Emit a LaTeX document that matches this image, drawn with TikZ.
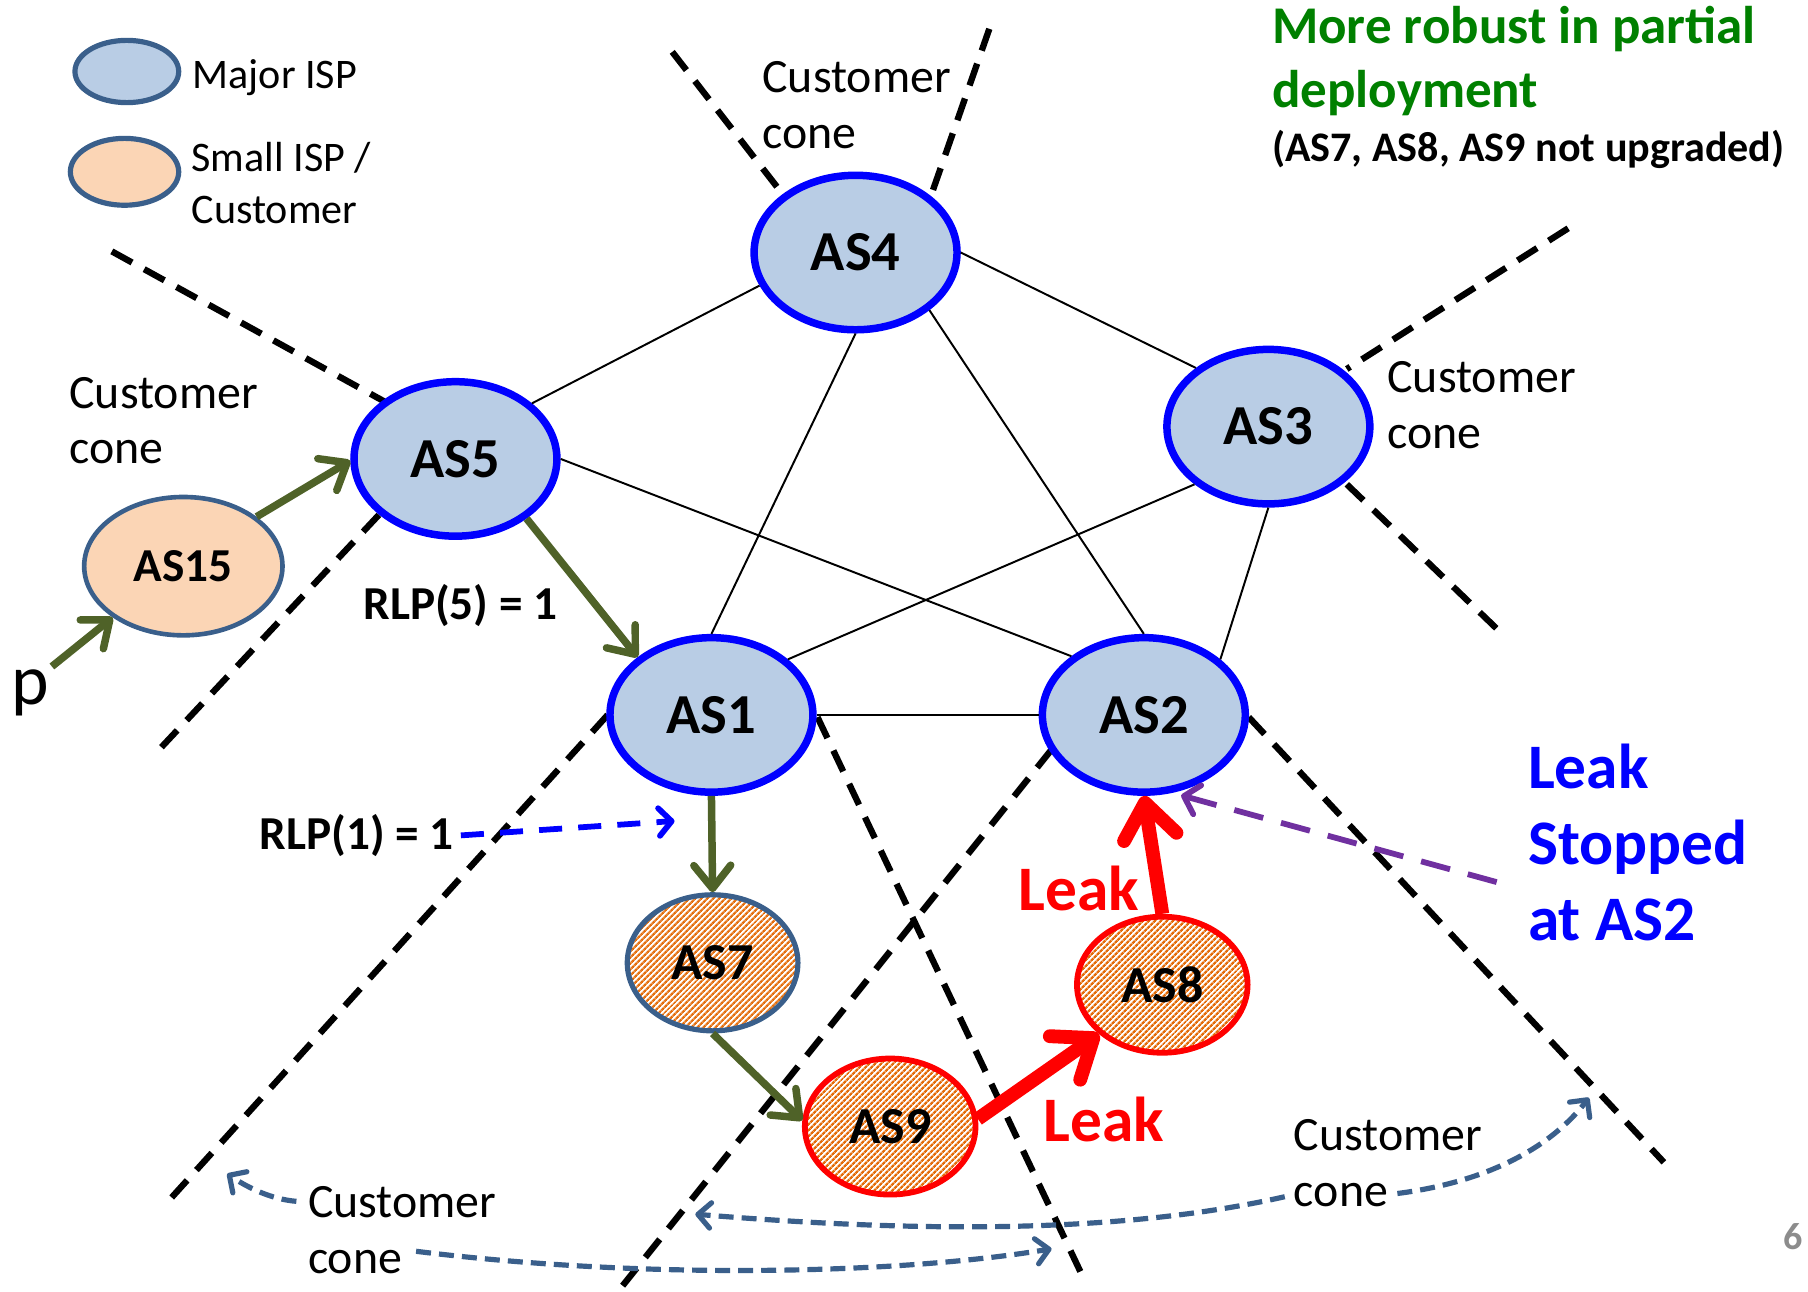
\documentclass[tikz,border=0pt]{standalone}
\usepackage{fontspec}
\setmainfont{Carlito}
\usetikzlibrary{arrows.meta,shapes.geometric,patterns.meta}
\definecolor{majorfill}{HTML}{B9CDE5}
\definecolor{smallfill}{HTML}{FBD5B5}
\definecolor{legblue}{HTML}{3A5F8B}
\definecolor{majblue}{HTML}{0000FF}
\definecolor{arrgreen}{HTML}{4F6228}
\definecolor{titlegreen}{HTML}{008000}
\definecolor{purp}{HTML}{7030A0}
\definecolor{hatchorange}{HTML}{E46C0A}
\definecolor{pagegray}{HTML}{8C8C8C}
\newcommand\fsz[1]{\fontsize{#1}{#1}\selectfont}
\tikzset{
  major/.style={ellipse, draw=majblue, line width=6.5pt, fill=majorfill, inner sep=0pt,
    minimum width=176pt, minimum height=134pt, font=\fsz{49}\bfseries},
  smallisp/.style={ellipse, draw=legblue, line width=4pt, fill=smallfill, inner sep=0pt,
    minimum width=172pt, minimum height=120pt, font=\fsz{41}\bfseries},
  hatchisp/.style={ellipse, inner sep=0pt, minimum width=148pt, minimum height=118pt,
    preaction={fill=white}, pattern={Lines[angle=45,distance=4pt,line width=2.4pt]},
    pattern color=hatchorange, font=\fsz{45}\bfseries},
  legell/.style={ellipse, draw=legblue, line width=4.5pt, inner sep=0pt},
  edgeline/.style={draw=black, line width=1.7pt},
  coneline/.style={draw=black, line width=5.5pt, dash pattern=on 20pt off 12pt},
  greenarr/.style={draw=arrgreen, line width=6.5pt, -{Straight Barb[length=20pt,width=32pt,round]}},
  redarr/.style={draw=red, line width=12pt, -{Straight Barb[length=30pt,width=46pt,round]}},
  bluearr/.style={draw=majblue, line width=5pt, dash pattern=on 20pt off 14pt, -{Straight Barb[length=11pt,width=24pt,round]}},
  purarr/.style={draw=purp, line width=5pt, dash pattern=on 26pt off 16pt, -{Straight Barb[length=12pt,width=26pt,round]}},
  conearr/.style={draw=legblue, line width=4.5pt, dash pattern=on 13pt off 7pt, -{Straight Barb[length=11pt,width=22pt,round]}},
  txt/.style={anchor=base west, inner sep=0pt, font=\fsz{41.5}},
  legtxt/.style={anchor=base west, inner sep=0pt, font=\fsz{36.5}},
  boldtxt/.style={anchor=base west, inner sep=0pt, font=\fsz{41}\bfseries},
}
\begin{document}
\begin{tikzpicture}[x=1pt,y=-1pt]
\useasboundingbox (0,0) rectangle (1568,1120);

% customer cone boundaries
\draw[coneline] (583,45) -- (680,170);
\draw[coneline] (858,25) -- (808,168);
\draw[coneline] (97,218) -- (333,348);
\draw[coneline] (140,648) -- (330,445);
\draw[coneline] (1360,198) -- (1168,320);
\draw[coneline] (1168,420) -- (1303,550);
\draw[coneline] (527,620) -- (143,1045);
\draw[coneline] (709,622) -- (938,1105);
\draw[coneline] (912,650) -- (540,1115);
\draw[coneline] (1083,622) -- (1443,1008);

% legend
\node[legell, fill=majorfill, minimum width=90pt, minimum height=54pt] (legmajor) at (110,62) {};
\node[legell, fill=smallfill, minimum width=94pt, minimum height=58pt] (legsmall) at (108,149) {};
\node[legtxt] (lt1) at (167,77) {Major ISP};
\node[legtxt] (lt2) at (166,149) {Small ISP /};
\node[legtxt] (lt3) at (166,194) {Customer};

% AS nodes
\node[major] (AS4) at (742,219) {AS4};
\node[major] (AS5) at (395,398) {AS5};
\node[major] (AS3) at (1100,370) {AS3};
\node[major] (AS1) at (617,620) {AS1};
\node[major] (AS2) at (992,620) {AS2};
\node[smallisp] (AS15) at (159,491) {AS15};
\node[hatchisp, draw=legblue, line width=4.5pt] (AS7) at (618,835) {AS7};
\node[hatchisp, draw=red, line width=5pt] (AS9) at (772,977) {AS9};
\node[hatchisp, draw=red, line width=5pt] (AS8) at (1008,854) {AS8};

% peering edges
\draw[edgeline] (AS4.199) -- (AS5.36);
\draw[edgeline] (AS4.east) -- (AS3.141);
\draw[edgeline] (AS4.south) -- (AS1.north);
\draw[edgeline] (AS4.-38) -- (AS2.north);
\draw[edgeline] (AS5.east) -- (AS2.141);
\draw[edgeline] (AS3.218) -- (AS1.36);
\draw[edgeline] (AS3.south) -- (AS2.36);
\draw[edgeline] (AS1.east) -- (AS2.west);

% texts
\node[anchor=base west, inner sep=0pt, font=\fsz{62}] (p) at (10,611) {p};
\node[txt] (ct1) at (661,80) {Customer};
\node[txt] (ct2) at (661,129) {cone};
\node[txt] (cl1) at (60,354) {Customer};
\node[txt] (cl2) at (60,402) {cone};
\node[txt] (cr1) at (1203,340) {Customer};
\node[txt] (cr2) at (1203,389) {cone};
\node[txt] (cbl1) at (267,1056) {Customer};
\node[txt] (cbl2) at (267,1104) {cone};
\node[txt] (cbr1) at (1122,998) {Customer};
\node[txt] (cbr2) at (1122,1046) {cone};
\node[boldtxt] (rlp5) at (315,537) {RLP(5) = 1};
\node[boldtxt] (rlp1) at (225,737) {RLP(1) = 1};
\node[anchor=base west, inner sep=0pt, font=\fsz{46}\bfseries, text=titlegreen] (t1) at (1103,38) {More robust in partial};
\node[anchor=base west, inner sep=0pt, font=\fsz{46}\bfseries, text=titlegreen] (t2) at (1103,93) {deployment};
\node[anchor=base west, inner sep=0pt, font=\fsz{36.5}\bfseries] (t3) at (1103,140) {(AS7, AS8, AS9 not upgraded)};
\node[anchor=base west, inner sep=0pt, font=\fsz{55}\bfseries, text=red] (leak1) at (883,790) {Leak};
\node[anchor=base west, inner sep=0pt, font=\fsz{55}\bfseries, text=red] (leak2) at (905,990) {Leak};
\node[anchor=base west, inner sep=0pt, font=\fsz{55}\bfseries, text=majblue] (ls1) at (1325,684) {Leak};
\node[anchor=base west, inner sep=0pt, font=\fsz{55}\bfseries, text=majblue] (ls2) at (1325,750) {Stopped};
\node[anchor=base west, inner sep=0pt, font=\fsz{55}\bfseries, text=majblue] (ls3) at (1325,816) {at AS2};
\node[anchor=base, inner sep=0pt, font=\fsz{33}\bfseries, text=pagegray] (pg) at (1555,1084) {6};

% green arrows (route propagation)
\coordinate (pstart) at (45,578);
\draw[greenarr] (pstart) -- (AS15.216);
\draw[greenarr] (AS15.34) -- (AS5.181);
\draw[greenarr] (AS5.-40) -- (AS1.142);
\draw[greenarr] (AS1.south) -- (AS7.north);
\draw[greenarr] (AS7.south) -- (AS9.176);

% leak arrows
\draw[redarr] (AS9.5) -- (AS8.218);
\draw[redarr] (AS8.north) -- (AS2.south);

% dashed annotation arrows
\coordinate (rlptip) at (585,712);
\draw[bluearr, shorten <=6pt] (rlp1.east) -- (rlptip);
\coordinate (purstart) at (1298,765);
\draw[purarr, shorten >=8pt] (purstart) -- (AS2.-70);

\coordinate (coneA) at (197,1018);
\coordinate (coneB) at (912,1083);
\coordinate (coneC) at (1378,952);
\coordinate (coneD) at (603,1053);
\draw[conearr, shorten <=10pt] (cbl1.west) .. controls (235,1040) and (215,1030) .. (coneA);
\draw[conearr, shorten <=12pt] (cbl2.north east) .. controls (560,1110) and (780,1105) .. (coneB);
\draw[conearr, shorten <=8pt] (cbr2.east) .. controls (1290,1025) and (1345,995) .. (coneC);
\draw[conearr, shorten <=8pt] (cbr2.west) .. controls (950,1075) and (750,1065) .. (coneD);
\end{tikzpicture}
\end{document}
